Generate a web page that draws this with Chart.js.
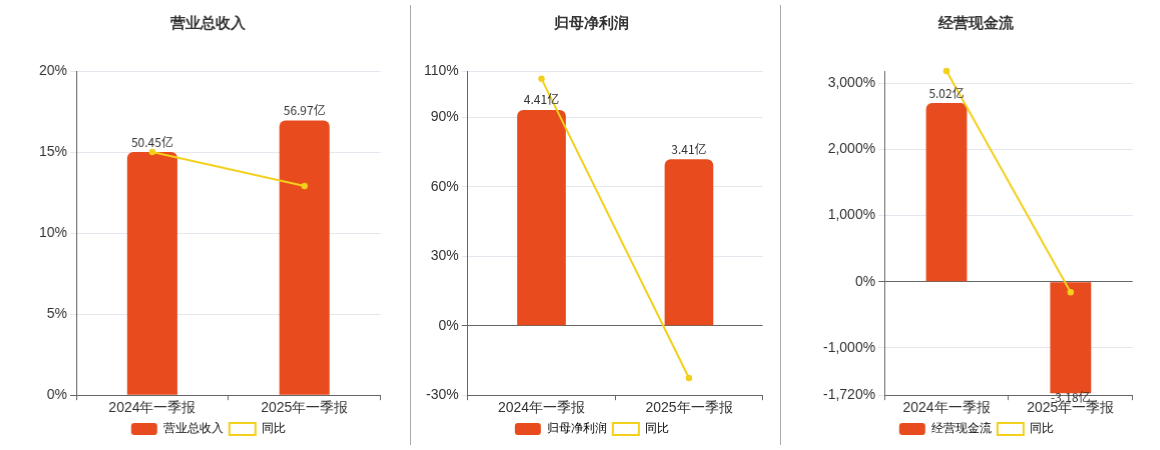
<!DOCTYPE html>
<html><head><meta charset="utf-8">
<script src="https://cdn.jsdelivr.net/npm/chart.js@4"></script>
<style>
body{margin:0;background:#fff;font-family:"Noto Sans CJK SC","Noto Sans",sans-serif;}
.wrap{display:flex;width:1160px;height:450px;}
.panel{position:relative;height:440px;margin-top:5px;}
.p1{width:410px;border-right:1px solid #aaa;}
.p2{width:370px;border-right:1px solid #aaa;}
.p3{width:379px;}
</style></head><body>
<div class="wrap">
<div class="panel p1"><canvas id="c1"></canvas></div>
<div class="panel p2"><canvas id="c2"></canvas></div>
<div class="panel p3"><canvas id="c3"></canvas></div>
</div>
<script>
const categories = ['2024年一季报', '2025年一季报'];
const titles = ['营业总收入', '归母净利润', '经营现金流'];
const barValues1 = [15.0, 16.95];
const lineValues1 = [15.0, 12.9];
const barLabels1 = ['50.45亿', '56.97亿'];
const barValues2 = [93.2, 71.9];
const lineValues2 = [106.6, -22.6];
const barLabels2 = ['4.41亿', '3.41亿'];
const barValues3 = [2706, -1691];
const lineValues3 = [3191, -162];
const barLabels3 = ['5.02亿', '-3.18亿'];
const ticks1 = [0, 5, 10, 15, 20];
const ticks2 = [-30, 0, 30, 60, 90, 110];
const ticks3 = [-1720, -1000, 0, 1000, 2000, 3000];

const labelPlugin = {
  id: 'barLabels',
  afterDatasetsDraw(chart) {
    const ctx = chart.ctx;
    const labels = chart.options.plugins.barLabels.labels;
    const meta = chart.getDatasetMeta(1);
    ctx.save();
    ctx.font = '12px "Noto Sans CJK SC", sans-serif';
    ctx.fillStyle = '#333';
    ctx.textAlign = 'center';
    meta.data.forEach((bar, i) => {
      const v = chart.data.datasets[1].data[i];
      if (v >= 0) { ctx.textBaseline = 'bottom'; ctx.fillText(labels[i], bar.x, bar.y - 4); }
      else { ctx.textBaseline = 'top'; ctx.fillText(labels[i], bar.x, bar.y - 2); }
    });
    ctx.restore();
  }
};

function makeChart(id, title, bars, line, labels, ticks, min, max, fmt, padL, padR) {
  new Chart(document.getElementById(id), {
    data: {
      labels: categories,
      datasets: [
        { type: 'line', label: '同比', data: line, borderColor: '#f2d01c', backgroundColor: '#fff',
          borderWidth: 2, pointRadius: 2.5, pointBorderWidth: 1.5, pointBackgroundColor: '#f2d01c', order: 0, clip: false },
        { type: 'bar', label: title, data: bars, backgroundColor: '#e84c1e',
          borderRadius: { topLeft: 6, topRight: 6, bottomLeft: 0, bottomRight: 0 },
          borderSkipped: 'start', barPercentage: 0.33, categoryPercentage: 1, order: 1 }
      ]
    },
    options: {
      responsive: true, maintainAspectRatio: false, animation: false,
      layout: { padding: { left: padL, right: padR, top: 0, bottom: 0 } },
      plugins: {
        title: { display: true, text: title, font: { size: 15, weight: 'bold' }, color: '#333', padding: { top: 10, bottom: 38 } },
        legend: { position: 'bottom', labels: { boxWidth: 26, boxHeight: 12, font: { size: 12 }, color: '#333', padding: 6,
          generateLabels(c) {
            return [
              { text: title, fillStyle: '#e84c1e', strokeStyle: '#e84c1e', lineWidth: 0, borderRadius: 3, datasetIndex: 1 },
              { text: '同比', fillStyle: '#fff', strokeStyle: '#f2d01c', lineWidth: 2, datasetIndex: 0 }
            ];
          } } },
        tooltip: { enabled: false },
        barLabels: { labels }
      },
      scales: {
        x: { grid: { display: true, drawOnChartArea: false, tickLength: 5, color: '#666' },
          border: { color: '#666' }, ticks: { color: '#333', font: { size: 14 }, padding: 0 } },
        y: { min, max,
          afterBuildTicks(a) { a.ticks = ticks.map(v => ({ value: v })); },
          grid: { color: c => c.tick.value === 0 ? '#666' : '#e6e6ee', tickLength: 6 },
          border: { color: '#666' },
          ticks: { color: '#333', font: { size: 14 }, callback: fmt } }
      }
    },
    plugins: [labelPlugin]
  });
}
makeChart('c1', titles[0], barValues1, lineValues1, barLabels1, ticks1, 0, 20, v => v + '%', 36, 30);
makeChart('c2', titles[1], barValues2, lineValues2, barLabels2, ticks2, -30, 110, v => v + '%', 10, 18);
makeChart('c3', titles[2], barValues3, lineValues3, barLabels3, ticks3, -1720, 3191, v => v.toLocaleString('en-US') + '%', 39, 28);
</script>
</body></html>
